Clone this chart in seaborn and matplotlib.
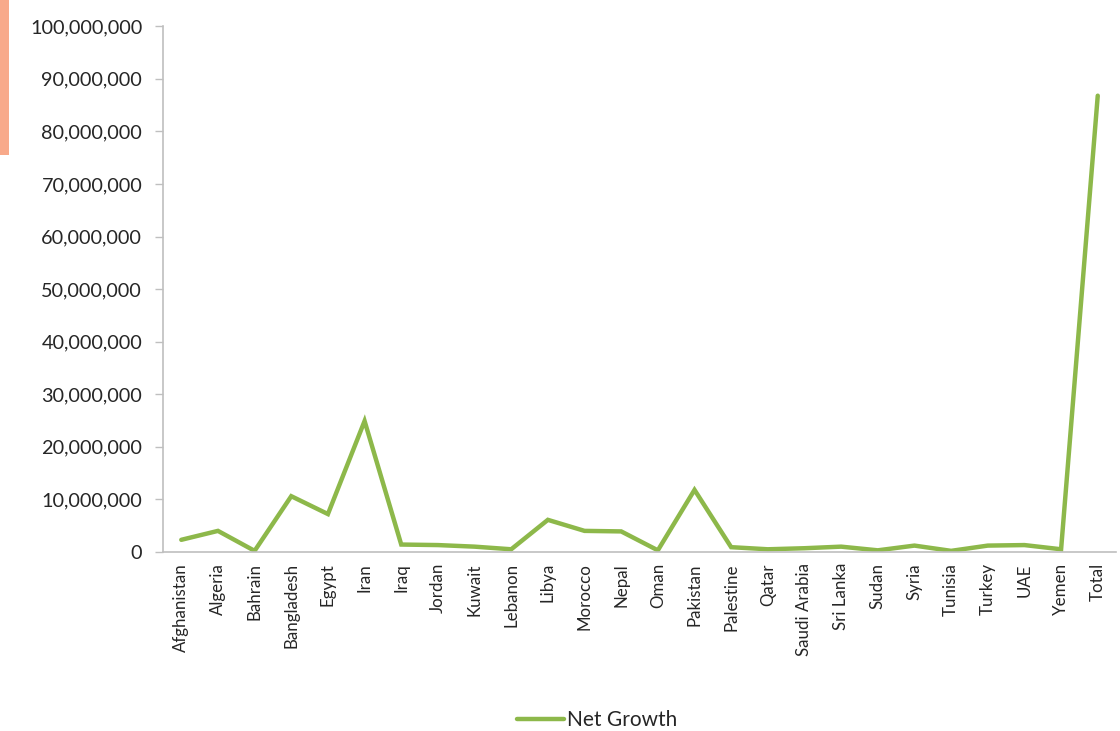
import matplotlib
matplotlib.use("Agg")
import matplotlib.pyplot as plt
import matplotlib.ticker as mticker
import matplotlib.patches as mpatches
import seaborn as sns
import pandas as pd
import numpy as np

countries = ["Afghanistan", "Algeria", "Bahrain", "Bangladesh", "Egypt", "Iran", "Iraq",
             "Jordan", "Kuwait", "Lebanon", "Libya", "Morocco", "Nepal", "Oman", "Pakistan",
             "Palestine", "Qatar", "Saudi Arabia", "Sri Lanka", "Sudan", "Syria", "Tunisia",
             "Turkey", "UAE", "Yemen", "Total"]
net_growth = [2300000, 4000000, 200000, 10600000, 7200000, 24900000, 1400000,
              1300000, 1000000, 500000, 6100000, 4000000, 3900000, 300000, 11800000,
              900000, 500000, 700000, 1000000, 300000, 1200000, 200000,
              1200000, 1300000, 500000, 86800000]
series_name = "Net Growth"

df = pd.DataFrame({"Country": countries, "Value": net_growth, "Series": series_name})

sns.set_theme(style="white")
plt.rcParams['font.family'] = ['Lato', 'DejaVu Sans']

fig = plt.figure(figsize=(11.2, 7.31), dpi=100)
ax = fig.add_axes([0.1455, 0.245, 0.851, 0.719])

line_color = "#8DB84A"
x_pos = np.arange(len(countries))
sns.lineplot(x=x_pos, y=df["Value"], ax=ax, color=line_color, linewidth=3.2,
             label=series_name, solid_joinstyle="miter")

ax.set_xlim(-0.5, len(countries) - 0.5)
ax.set_ylim(0, 100000000)
ax.yaxis.set_major_locator(mticker.MultipleLocator(10000000))
ax.yaxis.set_major_formatter(mticker.FuncFormatter(lambda v, p: f"{int(v):,}"))

ax.set_xticks(x_pos)
ax.set_xticklabels(countries, rotation=90, fontsize=12.2, color="#262626")
ax.set_xticks(np.arange(-0.5, len(countries)), minor=True)
ax.tick_params(axis="x", which="major", length=0, pad=8)
ax.tick_params(axis="x", which="minor", length=6, color="#BFBFBF", width=1, direction="out")
ax.tick_params(axis="y", which="major", length=6, color="#BFBFBF", width=1, direction="out",
               labelsize=14.3, labelcolor="#262626", left=True, pad=9)
ax.set_xlabel("")
ax.set_ylabel("")

for s in ["top", "right"]:
    ax.spines[s].set_visible(False)
for s in ["left", "bottom"]:
    ax.spines[s].set_color("#BFBFBF")
    ax.spines[s].set_linewidth(1.2)

leg = ax.legend(loc="center", bbox_to_anchor=(0.455, -0.320), frameon=False,
                fontsize=15, handlelength=2.3, handletextpad=0.1)
for t in leg.get_texts():
    t.set_color("#262626")

# salmon strip at top-left edge
fig.patches.append(mpatches.Rectangle((0, 1 - 155 / 731), 9 / 1120, 155 / 731,
                                      transform=fig.transFigure, facecolor="#F8A98A",
                                      edgecolor="none", zorder=0))

fig.savefig("out.png", dpi=100)
